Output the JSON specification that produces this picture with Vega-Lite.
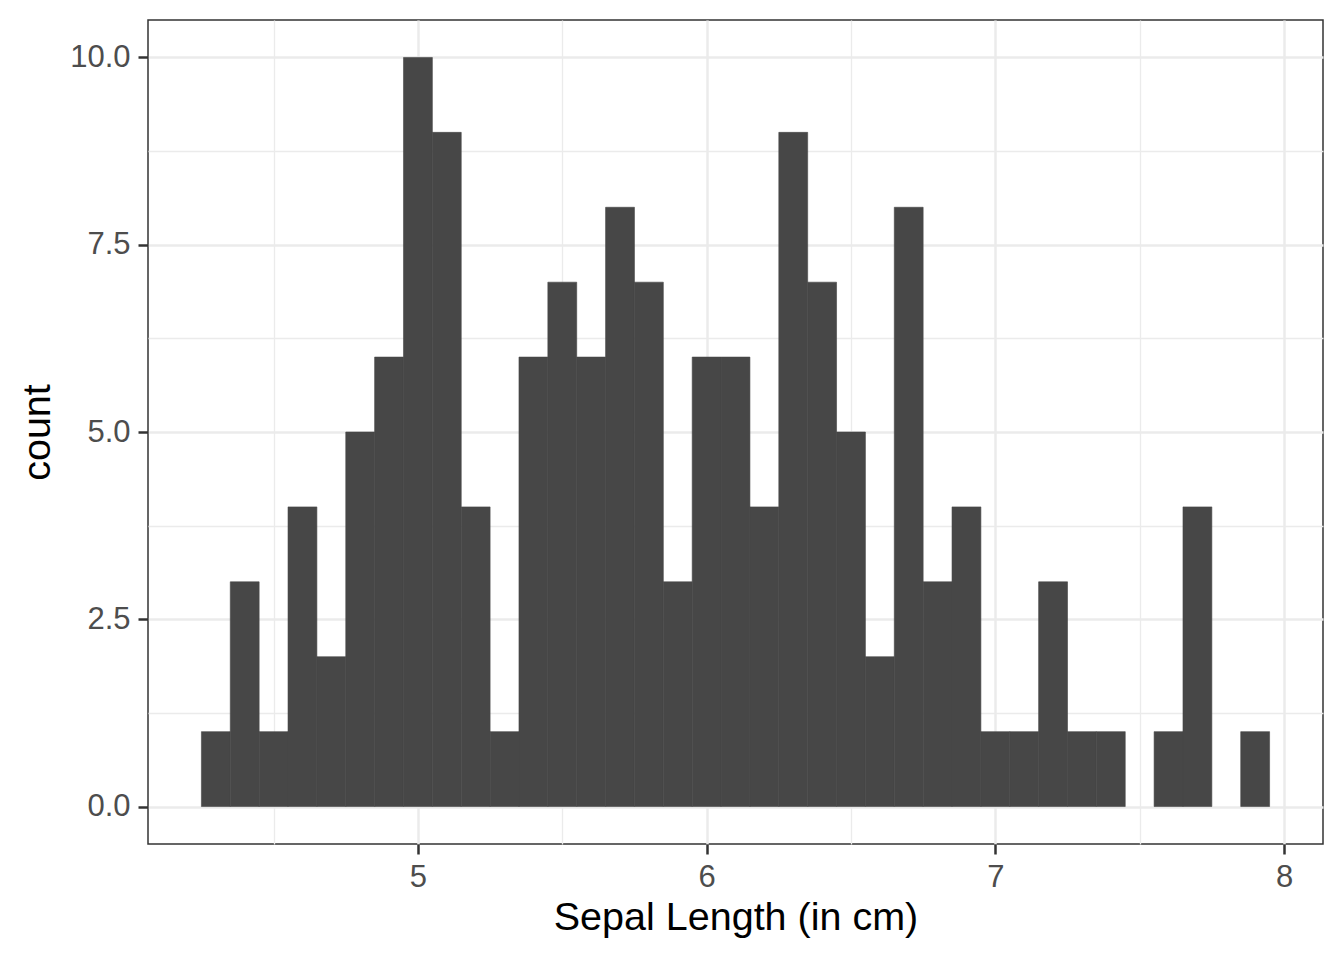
{
  "$schema": "https://vega.github.io/schema/vega-lite/v6.json",
  "width": 1175,
  "height": 824,
  "autosize": {"type": "none"},
  "padding": {"left": 148, "top": 20, "right": 21, "bottom": 116},
  "background": "white",
  "config": {
    "font": "Liberation Sans",
    "view": {"stroke": "#333333", "strokeWidth": 1.5, "fill": "white"},
    "axis": {
      "labelFont": "Liberation Sans",
      "titleFont": "Liberation Sans",
      "labelFontSize": 31,
      "titleFontSize": 39.5,
      "titleFontWeight": "normal",
      "labelColor": "#4D4D4D",
      "titleColor": "black",
      "tickColor": "#333333",
      "tickWidth": 2.5,
      "tickSize": 10,
      "labelPadding": 8,
      "domain": false,
      "gridColor": "#EBEBEB",
      "gridWidth": 2.5
    }
  },
  "data": {
    "values": [
      {"bin_start": 4.25, "bin_end": 4.35, "count": 1},
      {"bin_start": 4.35, "bin_end": 4.45, "count": 3},
      {"bin_start": 4.45, "bin_end": 4.55, "count": 1},
      {"bin_start": 4.55, "bin_end": 4.65, "count": 4},
      {"bin_start": 4.65, "bin_end": 4.75, "count": 2},
      {"bin_start": 4.75, "bin_end": 4.85, "count": 5},
      {"bin_start": 4.85, "bin_end": 4.95, "count": 6},
      {"bin_start": 4.95, "bin_end": 5.05, "count": 10},
      {"bin_start": 5.05, "bin_end": 5.15, "count": 9},
      {"bin_start": 5.15, "bin_end": 5.25, "count": 4},
      {"bin_start": 5.25, "bin_end": 5.35, "count": 1},
      {"bin_start": 5.35, "bin_end": 5.45, "count": 6},
      {"bin_start": 5.45, "bin_end": 5.55, "count": 7},
      {"bin_start": 5.55, "bin_end": 5.65, "count": 6},
      {"bin_start": 5.65, "bin_end": 5.75, "count": 8},
      {"bin_start": 5.75, "bin_end": 5.85, "count": 7},
      {"bin_start": 5.85, "bin_end": 5.95, "count": 3},
      {"bin_start": 5.95, "bin_end": 6.05, "count": 6},
      {"bin_start": 6.05, "bin_end": 6.15, "count": 6},
      {"bin_start": 6.15, "bin_end": 6.25, "count": 4},
      {"bin_start": 6.25, "bin_end": 6.35, "count": 9},
      {"bin_start": 6.35, "bin_end": 6.45, "count": 7},
      {"bin_start": 6.45, "bin_end": 6.55, "count": 5},
      {"bin_start": 6.55, "bin_end": 6.65, "count": 2},
      {"bin_start": 6.65, "bin_end": 6.75, "count": 8},
      {"bin_start": 6.75, "bin_end": 6.85, "count": 3},
      {"bin_start": 6.85, "bin_end": 6.95, "count": 4},
      {"bin_start": 6.95, "bin_end": 7.05, "count": 1},
      {"bin_start": 7.05, "bin_end": 7.15, "count": 1},
      {"bin_start": 7.15, "bin_end": 7.25, "count": 3},
      {"bin_start": 7.25, "bin_end": 7.35, "count": 1},
      {"bin_start": 7.35, "bin_end": 7.45, "count": 1},
      {"bin_start": 7.55, "bin_end": 7.65, "count": 1},
      {"bin_start": 7.65, "bin_end": 7.75, "count": 4},
      {"bin_start": 7.85, "bin_end": 7.95, "count": 1}
    ]
  },
  "layer": [
    {
      "mark": {"type": "bar", "opacity": 0},
      "encoding": {
        "x": {
          "field": "bin_start", "type": "quantitative",
          "scale": {"domain": [4.065, 8.135], "nice": false, "zero": false},
          "axis": {"orient": "bottom", "values": [4.5, 5.5, 6.5, 7.5], "grid": true, "gridWidth": 1.3,
                   "labels": false, "ticks": false, "title": null}
        },
        "x2": {"field": "bin_end"},
        "y": {
          "field": "count", "type": "quantitative", "stack": null,
          "scale": {"domain": [-0.5, 10.5], "nice": false, "zero": false},
          "axis": {"orient": "left", "values": [1.25, 3.75, 6.25, 8.75], "grid": true, "gridWidth": 1.3,
                   "labels": false, "ticks": false, "title": null}
        },
        "y2": {"datum": 0}
      }
    },
    {
      "mark": {"type": "bar", "fill": "#474747", "stroke": "#474747", "strokeWidth": 0.6, "binSpacing": 0},
      "encoding": {
        "x": {
          "field": "bin_start", "type": "quantitative",
          "axis": {"orient": "bottom", "values": [5, 6, 7, 8], "format": "d", "grid": true,
                   "title": "Sepal Length (in cm)", "titlePadding": 6}
        },
        "x2": {"field": "bin_end"},
        "y": {
          "field": "count", "type": "quantitative", "stack": null,
          "axis": {"orient": "left", "values": [0, 2.5, 5, 7.5, 10], "format": ".1f", "grid": true,
                   "title": "count", "titlePadding": 12}
        },
        "y2": {"datum": 0}
      }
    }
  ],
  "resolve": {"axis": {"x": "independent", "y": "independent"}}
}
